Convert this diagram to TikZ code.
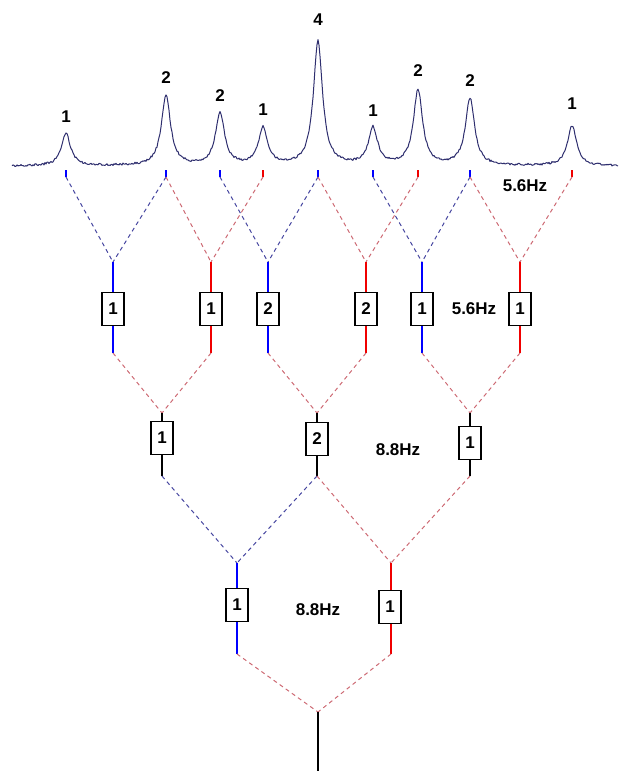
\documentclass[tikz,border=0pt]{standalone}
\usepackage{fontspec}
\setmainfont{Liberation Sans}
\usepackage{tikz}
\usetikzlibrary{positioning, calc}
\usepackage{xcolor}

\definecolor{specline}{RGB}{46,46,110}
\definecolor{dashblue}{RGB}{70,70,160}
\definecolor{dashred}{RGB}{205,105,115}
\definecolor{lineblue}{RGB}{0,0,255}
\definecolor{linered}{RGB}{240,0,0}

\tikzset{
    count/.style={draw=black, line width=1.2pt, fill=white, minimum width=22pt,
        minimum height=33pt, inner sep=0pt, font=\fontsize{17}{17}\selectfont\bfseries},
    split/.style={dash pattern=on 4pt off 3.5pt, line width=1pt},
    branch/.style={line width=2.5pt},
    tickmark/.style={line width=2pt},
    hzlabel/.style={font=\fontsize{17}{17}\selectfont\bfseries},
}

\begin{document}
\begin{tikzpicture}[x=1pt, y=-1pt,
    declare function={lor(\x,\c,\h)=\h/(1+(min(abs(\x-\c)/5.5,120))^2);}]
    \useasboundingbox (0,0) rectangle (619,771);

    % Spectrum
    \pgfmathsetseed{7}
    \draw[specline, line width=1pt, line join=round]
        plot[domain=12:618, samples=607]
        (\x, {166 - lor(\x,66,32) - lor(\x,166,70) - lor(\x,220,52) - lor(\x,263,37)
              - lor(\x,318,124) - lor(\x,373,37) - lor(\x,418,75) - lor(\x,470,67)
              - lor(\x,572,40) + 1.1*rand});

    % Peak ticks and intensities
    \foreach \i/\x/\col/\lab/\ly in {1/66/lineblue/1/117, 2/166/lineblue/2/78,
        3/220/lineblue/2/96, 4/263/linered/1/110, 5/318/lineblue/4/20,
        6/373/lineblue/1/111, 7/418/linered/2/71, 8/470/lineblue/2/81,
        9/572/linered/1/104}{
        \coordinate (t\i) at (\x,177);
        \draw[tickmark, \col] (\x,170) -- (t\i);
        \node[hzlabel] (p\i) at (\x,\ly) {\lab};
    }

    % 5.6Hz splitting
    \foreach \i/\x/\col/\n in {1/113/lineblue/1, 2/211/linered/1, 3/268/lineblue/2,
        4/366/linered/2, 5/422/lineblue/1, 6/520/linered/1}{
        \coordinate (a\i) at (\x,262);
        \coordinate (b\i) at (\x,353);
    }
    \foreach \s/\e in {t1/a1, t2/a1, t3/a3, t5/a3, t6/a5, t8/a5}
        \draw[split, dashblue] (\s) -- (\e);
    \foreach \s/\e in {t2/a2, t4/a2, t5/a4, t7/a4, t8/a6, t9/a6}
        \draw[split, dashred] (\s) -- (\e);
    \foreach \i/\x/\col/\n in {1/113/lineblue/1, 2/211/linered/1, 3/268/lineblue/2,
        4/366/linered/2, 5/422/lineblue/1, 6/520/linered/1}{
        \draw[branch, \col] (a\i) -- (b\i);
        \node[count] (m\i) at (\x,309) {\n};
    }

    % 5.6Hz splitting (second)
    \foreach \i/\x/\y/\n in {1/162/438/1, 2/317/439/2, 3/470/443/1}{
        \coordinate (c\i) at (\x,413);
        \coordinate (d\i) at (\x,476);
    }
    \foreach \s/\e in {b1/c1, b2/c1, b3/c2, b4/c2, b5/c3, b6/c3}
        \draw[split, dashred] (\s) -- (\e);
    \foreach \i/\x/\y/\n in {1/162/438/1, 2/317/439/2, 3/470/443/1}{
        \draw[branch, black] (c\i) -- (d\i);
        \node[count] (k\i) at (\x,\y) {\n};
    }

    % 8.8Hz splitting
    \coordinate (e1) at (237,563);  \coordinate (f1) at (237,654);
    \coordinate (e2) at (391,563);  \coordinate (f2) at (391,654);
    \draw[split, dashblue] (d1) -- (e1);
    \draw[split, dashblue] (d2) -- (e1);
    \draw[split, dashred]  (d2) -- (e2);
    \draw[split, dashred]  (d3) -- (e2);
    \draw[branch, lineblue] (e1) -- (f1);
    \draw[branch, linered]  (e2) -- (f2);
    \node[count] (j1) at (237,605) {1};
    \node[count] (j2) at (390,607) {1};

    % Parent line
    \coordinate (g) at (318,712);
    \coordinate (h) at (318,771);
    \draw[split, dashred] (f1) -- (g);
    \draw[split, dashred] (f2) -- (g);
    \draw[branch, black] (g) -- (h);

    % Coupling constants
    \node[hzlabel] (j56a) at (525,186) {5.6Hz};
    \node[hzlabel] (j56b) at (474,309) {5.6Hz};
    \node[hzlabel] (j88a) at (398,450) {8.8Hz};
    \node[hzlabel] (j88b) at (318,610) {8.8Hz};
\end{tikzpicture}
\end{document}
